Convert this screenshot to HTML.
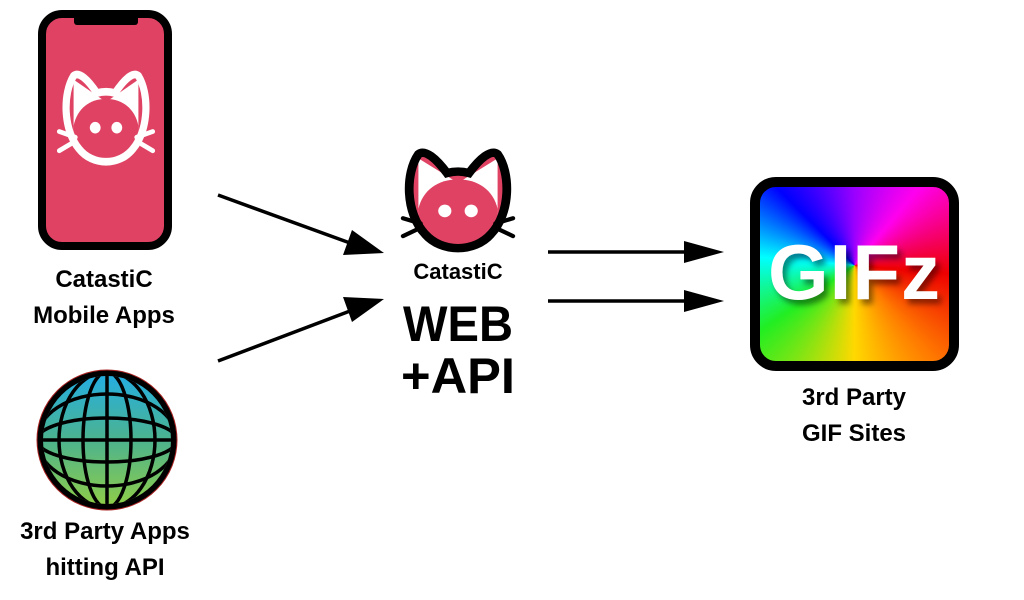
<!DOCTYPE html>
<html><head><meta charset="utf-8"><style>
html,body{margin:0;padding:0;background:#fff;width:1024px;height:600px;overflow:hidden;position:relative;font-family:"Liberation Sans","DejaVu Sans",sans-serif}
.lbl{position:absolute;font-weight:bold;font-size:24px;line-height:36px;text-align:center;color:#000;width:260px}
</style></head><body>
<svg width="1024" height="600" style="position:absolute;left:0;top:0">
<defs>
<linearGradient id="gl" x1="0" y1="0" x2="0" y2="1"><stop offset="0" stop-color="#25aee0"/><stop offset="0.5" stop-color="#4cb38e"/><stop offset="1" stop-color="#8ccc4a"/></linearGradient>
<clipPath id="gc"><circle cx="107" cy="440" r="64"/></clipPath>
<path id="cat" d="M14,4 C2,22 2,60 20,80 C35,98 65,98 80,80 C98,60 98,22 86,4 C80,-1 70,8 60,22 C53,20 47,20 40,22 C30,8 20,-1 14,4 Z"/>
<path id="face" d="M14,56 C18,38 32,28 50,28 C68,28 82,38 86,56 L86,100 L14,100Z"/>
<clipPath id="cc"><use href="#cat"/></clipPath>
</defs>
<!-- phone -->
<rect x="42" y="14" width="126" height="232" rx="20" fill="#e04263" stroke="#000" stroke-width="8"/>
<rect x="74" y="14" width="64" height="11" rx="3" fill="#000"/>
<g transform="translate(61,72) scale(0.9,0.96)">
<g clip-path="url(#cc)">
<path d="M14,8 L48,30 L14,62Z" fill="#fff"/>
<path d="M86,8 L52,30 L86,62Z" fill="#fff"/>
<use href="#face" fill="#e04263"/>
</g>
<use href="#cat" fill="none" stroke="#fff" stroke-width="8"/>
<circle cx="38" cy="58" r="6" fill="#fff"/><circle cx="62" cy="58" r="6" fill="#fff"/>
<g stroke="#fff" stroke-width="5" stroke-linecap="round"><path d="M-2,62 L16,68 M-2,82 L16,72 M102,62 L84,68 M102,82 L84,72"/></g>
</g>
<!-- center cat -->
<g transform="translate(403,150) scale(1.1,1.05)">
<use href="#cat" fill="#e04263"/>
<g clip-path="url(#cc)">
<path d="M14,8 L48,30 L14,62Z" fill="#fff"/>
<path d="M86,8 L52,30 L86,62Z" fill="#fff"/>
<use href="#face" fill="#e04263"/>
</g>
<use href="#cat" fill="none" stroke="#000" stroke-width="8"/>
<circle cx="38" cy="58" r="6" fill="#fff"/><circle cx="62" cy="58" r="6" fill="#fff"/>
<g stroke="#000" stroke-width="4" stroke-linecap="round"><path d="M0,65 L16,70 M0,82 L16,74 M100,65 L84,70 M100,82 L84,74"/></g>
</g>
<text x="458" y="279" text-anchor="middle" font-weight="bold" font-size="22" font-family="Liberation Sans, sans-serif">CatastiC</text>
<text x="458" y="341" text-anchor="middle" font-weight="900" font-size="50" font-family="Liberation Sans, sans-serif" textLength="110" lengthAdjust="spacingAndGlyphs">WEB</text>
<text x="458" y="393" text-anchor="middle" font-weight="900" font-size="50" font-family="Liberation Sans, sans-serif" textLength="114" lengthAdjust="spacingAndGlyphs">+API</text>
<!-- globe -->
<circle cx="107" cy="440" r="70" fill="#000" stroke="#a22" stroke-width="1"/>
<circle cx="107" cy="440" r="64" fill="url(#gl)"/>
<g clip-path="url(#gc)" fill="none" stroke="#000" stroke-width="3.5">
<line x1="107" y1="370" x2="107" y2="510"/>
<ellipse cx="107" cy="440" rx="24" ry="68"/><ellipse cx="107" cy="440" rx="48" ry="68"/>
<line x1="37" y1="440" x2="177" y2="440"/>
<ellipse cx="107" cy="440" rx="70" ry="22"/><ellipse cx="107" cy="440" rx="70" ry="46"/>
</g>
<!-- arrows -->
<g stroke="#000" stroke-width="3.5">
<line x1="218" y1="195" x2="350" y2="243"/>
<line x1="218" y1="361" x2="350" y2="311"/>
<line x1="548" y1="252" x2="690" y2="252"/>
<line x1="548" y1="301" x2="690" y2="301"/>
</g>
<g fill="#000">
<polygon points="384,253 343,255 352,230"/>
<polygon points="384,299 343,297 352,322"/>
<polygon points="724,252 684,241 684,263"/>
<polygon points="724,301 684,290 684,312"/>
</g>
</svg>
<!-- GIF box -->
<div style="position:absolute;left:750px;top:177px;width:189px;height:174px;border:10px solid #000;border-radius:26px;overflow:hidden;background:conic-gradient(from 0deg at 50% 45%,#9a00ff 0deg,#f0e 40deg,#e00 95deg,#ff7a00 140deg,#ffd800 180deg,#2e2 235deg,#0ff 275deg,#00f 315deg,#9a00ff 360deg)">
<div style="position:absolute;left:0;width:189px;top:40px;text-align:center;color:#fff;font-weight:900;font-size:78px;line-height:90px;letter-spacing:1px;text-shadow:4px 5px 6px rgba(0,0,0,0.45)">GIFz</div>
</div>
<div class="lbl" style="left:-26px;top:262px">CatastiC<br>Mobile Apps</div>
<div class="lbl" style="left:-25px;top:514px">3rd Party Apps<br>hitting API</div>
<div class="lbl" style="left:724px;top:380px">3rd Party<br>GIF Sites</div>
</body></html>
